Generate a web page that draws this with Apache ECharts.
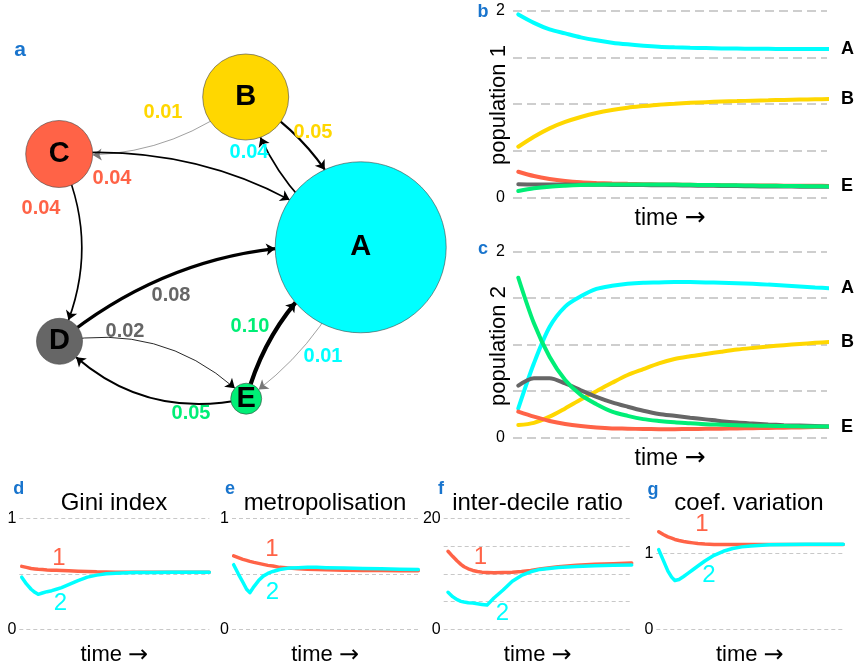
<!DOCTYPE html>
<html><head><meta charset="utf-8">
<script src="https://cdn.jsdelivr.net/npm/echarts@6/dist/echarts.min.js"></script>
<style>html,body{margin:0;padding:0;background:#fff}#c{width:859px;height:672px}</style>
</head><body><div id="c"></div>
<script>
// ================= DATA =================
// network (panel a)
const nodeNames = ['A', 'B', 'C', 'D', 'E'];
const edgeFrom   = ['B', 'B', 'A', 'C', 'C', 'D', 'D', 'E', 'E', 'A'];
const edgeTo     = ['C', 'A', 'B', 'A', 'D', 'A', 'E', 'D', 'A', 'E'];
const edgeWeight = [0.01, 0.05, 0.04, 0.04, 0.04, 0.08, 0.02, 0.05, 0.10, 0.01];

// panels b & c : populations over time
const timeSteps = [0,1,2,3,4,5,6,7,8,9,10,11,12,13,14,15,16,17,18,19,20];
const pop1A = [1.96,1.87,1.80,1.757,1.715,1.683,1.658,1.64,1.626,1.615,1.608,1.603,1.60,1.597,1.595,1.593,1.592,1.591,1.59,1.59,1.59];
const pop1B = [0.545,0.652,0.742,0.81,0.863,0.906,0.938,0.963,0.98,0.995,1.005,1.015,1.022,1.028,1.033,1.038,1.042,1.046,1.049,1.052,1.055];
const pop1C = [0.278,0.232,0.2,0.178,0.164,0.157,0.152,0.148,0.145,0.142,0.14,0.138,0.136,0.134,0.132,0.131,0.13,0.129,0.128,0.127,0.126];
const pop1D = [0.143,0.142,0.141,0.14,0.139,0.138,0.137,0.136,0.135,0.133,0.132,0.13,0.128,0.126,0.124,0.122,0.12,0.119,0.118,0.117,0.116];
const pop1E = [0.071,0.1,0.118,0.128,0.135,0.139,0.141,0.142,0.142,0.141,0.14,0.138,0.136,0.134,0.132,0.13,0.128,0.126,0.124,0.122,0.12];

const pop2A = [0.315,0.80,1.19,1.41,1.52,1.60,1.634,1.656,1.667,1.67,1.674,1.673,1.67,1.667,1.662,1.655,1.646,1.637,1.627,1.616,1.606];
const pop2B = [0.136,0.16,0.226,0.315,0.41,0.50,0.59,0.674,0.738,0.80,0.846,0.875,0.9,0.925,0.948,0.965,0.98,0.995,1.008,1.02,1.03];
const pop2C = [0.28,0.226,0.18,0.147,0.125,0.11,0.10,0.097,0.093,0.092,0.092,0.093,0.095,0.097,0.1,0.102,0.105,0.108,0.11,0.114,0.118];
const pop2D = [0.56,0.64,0.64,0.584,0.51,0.44,0.38,0.333,0.29,0.255,0.235,0.215,0.197,0.178,0.163,0.152,0.142,0.135,0.13,0.125,0.12];
const pop2E = [1.72,1.23,0.87,0.62,0.46,0.36,0.28,0.235,0.2,0.18,0.165,0.155,0.145,0.14,0.135,0.13,0.128,0.125,0.122,0.12,0.12];

// panels d-g : inequality indices (1 = population 1, 2 = population 2)
const indexTime = [0,0.5,1,1.4,1.75,2.2,2.7,3.2,3.7,4.25,5,6,7,8,9,10,12,14,16,18,20];
const gini1  = [0.567,0.558,0.548,0.544,0.541,0.538,0.535,0.533,0.532,0.53,0.527,0.524,0.521,0.518,0.517,0.515,0.515,0.515,0.515,0.515,0.515];
const gini2  = [0.47,0.409,0.361,0.333,0.315,0.327,0.339,0.348,0.361,0.376,0.403,0.439,0.47,0.488,0.5,0.506,0.512,0.512,0.515,0.515,0.515];
const metro1 = [0.661,0.645,0.63,0.621,0.612,0.603,0.594,0.585,0.576,0.57,0.558,0.552,0.545,0.542,0.539,0.536,0.533,0.53,0.53,0.527,0.527];
const metro2 = [0.582,0.5,0.424,0.361,0.33,0.385,0.439,0.479,0.503,0.521,0.539,0.552,0.555,0.558,0.558,0.555,0.552,0.548,0.545,0.542,0.539];
const decile1 = [14.06,13.15,12.3,11.7,11.27,10.9,10.6,10.42,10.3,10.24,10.18,10.24,10.3,10.42,10.6,10.85,11.27,11.52,11.7,11.82,11.94];
const decile2 = [6.67,5.88,5.33,5.03,4.91,4.79,4.73,4.6,4.48,4.36,5.64,7.09,8.67,9.7,10.36,10.79,11.15,11.33,11.45,11.52,11.58];
const cv1 = [1.289,1.253,1.222,1.204,1.187,1.173,1.16,1.151,1.142,1.133,1.127,1.122,1.12,1.12,1.12,1.12,1.12,1.12,1.12,1.12,1.12];
const cv2 = [1.053,0.911,0.769,0.689,0.644,0.658,0.698,0.742,0.787,0.836,0.902,0.978,1.031,1.067,1.089,1.102,1.116,1.12,1.124,1.124,1.124];

// tick labels shown
const popTicks = [0, 2];
const giniTicks = [0, 1];
const metroTicks = [0, 1];
const decileTicks = [0, 20];
const cvTicks = [0, 1];

// ================= STYLE / LAYOUT =================
const FONT = '"Liberation Sans", Arial, Helvetica, sans-serif';
const COL = {A: '#00FFFF', B: '#FFD700', C: '#FF6347', D: '#666666', E: '#00EE76'};
const LETTER = '#1874CD';
const GRIDCOL = '#BEBEBE';

const NET = {
  pos:  {A: [360.7, 247.3], B: [245.7, 97], C: [59.2, 154], D: [59.5, 341.3], E: [246.2, 398.7]},
  size: {A: 171, B: 86, C: 67, D: 46, E: 31},
  curve: [0.2, 0.2, 0.2, 0.2, 0.24, 0.2, 0.26, 0.28, 0.2, 0.16],
  labelPos: [[163,112],[313,132],[249,152],[112,178],[41,208],[171,295],[125,331],[191,413],[250,326],[323,356]]
};

const grids = [
  {left: 0, top: 0, width: 460, height: 440},
  {left: 513, top: 10.7, width: 314, height: 187},
  {left: 513, top: 251.7, width: 314, height: 186},
  {left: 19.3, top: 518.3, width: 190, height: 111},
  {left: 232, top: 518.3, width: 186.3, height: 111},
  {left: 443.7, top: 518.3, width: 188, height: 111},
  {left: 656.3, top: 518.3, width: 187, height: 111}
];

function tickFmt(list) { return v => (list.indexOf(v) >= 0 ? String(v) : ''); }

function timeAxis(gi, min, max, gap, fs) {
  return {
    gridIndex: gi, type: 'value', min: min, max: max,
    axisLine: {show: false}, axisTick: {show: false}, axisLabel: {show: false}, splitLine: {show: false},
    name: 'time {a|\u2192}', nameLocation: 'middle', nameGap: gap,
    nameTextStyle: {fontSize: fs, color: '#000', fontFamily: FONT,
      rich: {a: {fontSize: fs + 2, fontFamily: '"DejaVu Sans", sans-serif', color: '#000'}}}
  };
}
function valAxis(gi, max, interval, ticks, big) {
  return {
    gridIndex: gi, type: 'value', min: 0, max: max, interval: interval,
    axisLine: {show: false}, axisTick: {show: false},
    axisLabel: {formatter: tickFmt(ticks), fontSize: 16, color: '#000', fontFamily: FONT, margin: big ? 8 : 3},
    splitLine: {show: true, lineStyle: big ? {type: [9, 5], color: GRIDCOL, width: 1.5} : {type: [4, 3], color: '#C8C8C8', width: 1}}
  };
}

const xAxes = [
  {gridIndex: 0, type: 'value', min: 0, max: 460, show: false},
  timeAxis(1, -0.34, 19.76, 8, 23),
  timeAxis(2, -0.34, 19.76, 8, 23),
  timeAxis(3, -0.26, 20, 14, 22),
  timeAxis(4, -0.18, 20, 14, 22),
  timeAxis(5, -0.47, 20, 14, 22),
  timeAxis(6, -0.26, 20, 14, 22)
];
const yAxes = [
  {gridIndex: 0, type: 'value', min: 0, max: 440, inverse: true, show: false},
  valAxis(1, 2, 0.5, popTicks, true),
  valAxis(2, 2, 0.5, popTicks, true),
  valAxis(3, 1, 0.5, giniTicks, false),
  valAxis(4, 1, 0.5, metroTicks, false),
  valAxis(5, 20, 5, decileTicks, false),
  valAxis(6, 1.4667, 1, cvTicks, false)
];
yAxes[6].splitLine.showMaxLine = false;

const series = [];

// ---- network graph ----
series.push({
  type: 'graph', coordinateSystem: 'cartesian2d', xAxisIndex: 0, yAxisIndex: 0,
  data: nodeNames.map(n => ({
    name: n, value: NET.pos[n], symbolSize: NET.size[n],
    itemStyle: {color: COL[n], borderColor: '#444', borderWidth: 0.6}
  })),
  links: edgeFrom.map((s, i) => ({
    source: s, target: edgeTo[i], value: edgeWeight[i],
    lineStyle: {
      width: Math.max(0.7, edgeWeight[i] * 42),
      color: edgeWeight[i] <= 0.01 ? '#777' : '#000',
      curveness: NET.curve[i], opacity: 1
    }
  })),
  edgeSymbol: ['none', 'arrow'], edgeSymbolSize: 9,
  label: {show: true, formatter: '{b}', fontSize: 29, fontWeight: 'bold', color: '#000', fontFamily: FONT},
  silent: true, z: 2
});
series.push({
  type: 'scatter', xAxisIndex: 0, yAxisIndex: 0, symbolSize: 1,
  itemStyle: {color: 'rgba(0,0,0,0)', opacity: 1}, silent: true, z: 5,
  label: {show: true, position: 'inside', fontSize: 20, fontWeight: 'bold', fontFamily: FONT, opacity: 1},
  data: edgeWeight.map((w, i) => ({value: NET.labelPos[i], label: {formatter: w.toFixed(2), color: COL[edgeFrom[i]]}}))
});

// ---- population panels ----
function popSeries(gi, name, vals, labelled) {
  const s = {
    type: 'line', xAxisIndex: gi, yAxisIndex: gi, name: name,
    data: timeSteps.map((t, i) => [t, vals[i]]),
    showSymbol: false, symbol: 'none', smooth: 0.3, clip: false, silent: true,
    lineStyle: {color: COL[name], width: 4, cap: 'round'}
  };
  if (labelled) s.endLabel = {show: true, formatter: name, distance: 12, fontSize: 18, fontWeight: 'bold', color: '#000', fontFamily: FONT};
  return s;
}
[[pop1A,'A',true],[pop1B,'B',true],[pop1C,'C',false],[pop1D,'D',false],[pop1E,'E',true]].forEach(r => series.push(popSeries(1, r[1], r[0], r[2])));
[[pop2A,'A',true],[pop2B,'B',true],[pop2C,'C',false],[pop2D,'D',false],[pop2E,'E',true]].forEach(r => series.push(popSeries(2, r[1], r[0], r[2])));

// ---- index panels ----
function idxSeries(gi, vals, color) {
  return {
    type: 'line', xAxisIndex: gi, yAxisIndex: gi,
    data: indexTime.map((t, i) => [t, vals[i]]),
    showSymbol: false, symbol: 'none', smooth: false, silent: true,
    lineStyle: {color: color, width: 3.5, cap: 'round', join: 'round'}
  };
}
[[gini1, gini2], [metro1, metro2], [decile1, decile2], [cv1, cv2]].forEach((p, k) => {
  series.push(idxSeries(3 + k, p[0], COL.C));
  series.push(idxSeries(3 + k, p[1], COL.A));
});

// ---- free texts ----
function txt(x, y, text, font, fill, rot) {
  return {type: 'text', x: x, y: y, rotation: rot || 0, silent: true, z: 10,
    style: {text: text, font: font, fill: fill, align: 'center', verticalAlign: 'middle'}};
}
const B18 = 'bold 18px ' + FONT;
const graphic = [
  txt(20, 50, 'a', 'bold 21px ' + FONT, LETTER),
  txt(483, 12, 'b', B18, LETTER),
  txt(483, 249, 'c', B18, LETTER),
  txt(18.7, 489.5, 'd', B18, LETTER),
  txt(230, 489, 'e', B18, LETTER),
  txt(441, 489.5, 'f', B18, LETTER),
  txt(653, 490, 'g', B18, LETTER),
  txt(499, 105, 'population 1', '22px ' + FONT, '#000', Math.PI / 2),
  txt(499, 346, 'population 2', '22px ' + FONT, '#000', Math.PI / 2),
  txt(114, 503.5, 'Gini index', '24px ' + FONT, '#000'),
  txt(325, 503.5, 'metropolisation', '24px ' + FONT, '#000'),
  txt(537.5, 503.5, 'inter-decile ratio', '24px ' + FONT, '#000'),
  txt(749, 503.5, 'coef. variation', '24px ' + FONT, '#000'),
  txt(59, 558, '1', '24px ' + FONT, COL.C),
  txt(60.3, 603.3, '2', '24px ' + FONT, COL.A),
  txt(272, 549.5, '1', '24px ' + FONT, COL.C),
  txt(272.3, 592.3, '2', '24px ' + FONT, COL.A),
  txt(480.3, 557.2, '1', '24px ' + FONT, COL.C),
  txt(502.3, 613.8, '2', '24px ' + FONT, COL.A),
  txt(702, 524.5, '1', '24px ' + FONT, COL.C),
  txt(709, 575.8, '2', '24px ' + FONT, COL.A)
];

const chart = echarts.init(document.getElementById('c'), null, {renderer: 'canvas'});
chart.setOption({
  backgroundColor: '#fff',
  animation: false,
  textStyle: {fontFamily: FONT},
  grid: grids,
  xAxis: xAxes,
  yAxis: yAxes,
  series: series,
  graphic: graphic
});
</script></body></html>
